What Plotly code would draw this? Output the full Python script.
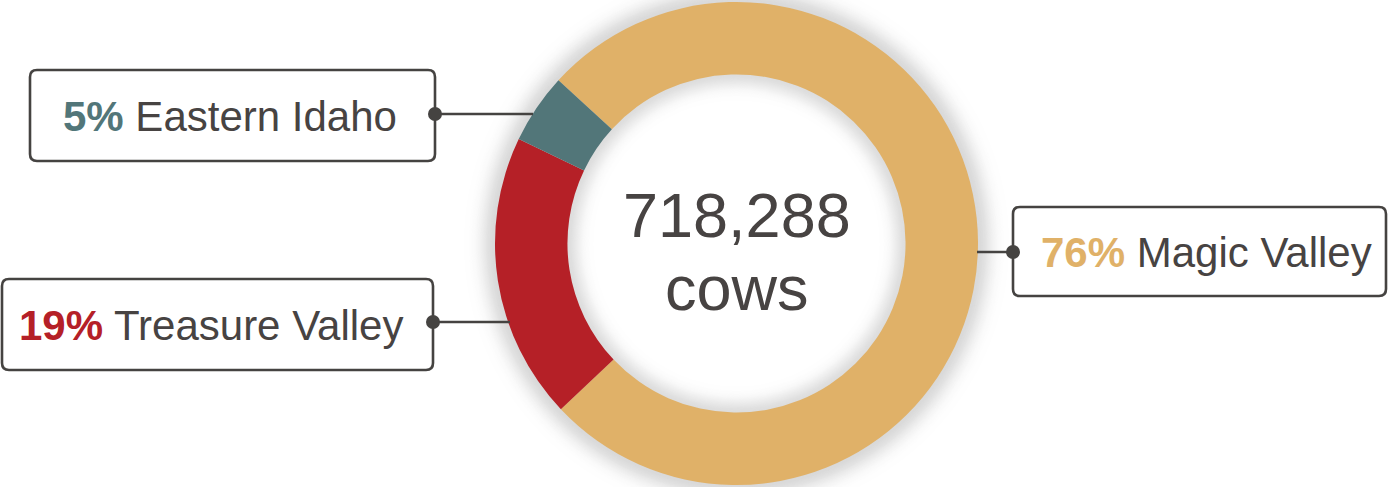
import math
import plotly.graph_objects as go

# ---- data ----
regions = ["Magic Valley", "Treasure Valley", "Eastern Idaho"]
cows = [547000, 137600, 33688]
pct_labels = ["76%", "19%", "5%"]
colors = ["#E0B168", "#B52027", "#527679"]
total_label = "718,288"
unit_label = "cows"

# ---- geometry (pixels) ----
W, H = 1388, 487
cx, cy = 736.5, 243.5
r_out = 241.5
hole = 0.70
r_in = r_out * hole
TXT = "#474342"
EDGE = "#454341"
FONT = "Liberation Sans, Arial, sans-serif"

fig = go.Figure()
fig.add_trace(go.Pie(
    labels=regions, values=cows,
    marker=dict(colors=colors, line=dict(width=0)),
    hole=hole, sort=False, direction="clockwise", rotation=-47.5,
    textinfo="none", hoverinfo="skip", showlegend=False,
    domain=dict(x=[(cx - r_out) / W, (cx + r_out) / W],
                y=[(H - cy - r_out) / H, (H - cy + r_out) / H]),
))

shapes = []


def gray(d, maxd=38, sigma=15.0):
    v = int(round(255 - maxd * math.exp(-(d / sigma) ** 2)))
    return f"rgb({v},{v},{v})"


# outer soft shadow
for d in range(36, -1, -1):
    r = r_out + d
    shapes.append(dict(type="circle", xref="x", yref="y", layer="below",
                       x0=cx - r, x1=cx + r, y0=cy - r, y1=cy + r,
                       fillcolor=gray(d), line=dict(width=0)))
# inner soft shadow inside hole
for d in range(0, 35):
    r = r_in + 1 - d
    shapes.append(dict(type="circle", xref="x", yref="y", layer="below",
                       x0=cx - r, x1=cx + r, y0=cy - r, y1=cy + r,
                       fillcolor=gray(d, maxd=34, sigma=13.0), line=dict(width=0)))


def rrect(x0, y0, x1, y1, r):
    return (f"M{x0 + r},{y0} L{x1 - r},{y0} Q{x1},{y0} {x1},{y0 + r} "
            f"L{x1},{y1 - r} Q{x1},{y1} {x1 - r},{y1} L{x0 + r},{y1} "
            f"Q{x0},{y1} {x0},{y1 - r} L{x0},{y0 + r} Q{x0},{y0} {x0 + r},{y0} Z")


# label boxes: (box x0, y0, x1, y1, dot x, dot y, line end x, text x)
boxes = {
    "Eastern Idaho": (30, 70, 435, 161, 435, 114, 533, 61),
    "Treasure Valley": (2, 279, 433, 370, 433, 322, 510, 17),
    "Magic Valley": (1013, 207, 1386, 296, 1013, 252, 977, 1039),
}

annotations = []
for name, pct, col in zip(regions, pct_labels, colors):
    x0, y0, x1, y1, dx, dy, lx, tx = boxes[name]
    shapes.append(dict(type="line", xref="x", yref="y", x0=dx, x1=lx, y0=dy, y1=dy,
                       line=dict(color=EDGE, width=2.5)))
    shapes.append(dict(type="path", xref="x", yref="y", path=rrect(x0, y0, x1, y1, 7),
                       fillcolor="white", line=dict(color=EDGE, width=2.6)))
    shapes.append(dict(type="circle", xref="x", yref="y", x0=dx - 7, x1=dx + 7,
                       y0=dy - 7, y1=dy + 7, fillcolor=EDGE, line=dict(width=0)))
    annotations.append(dict(
        xref="x", yref="y", x=tx, y=(y0 + y1) / 2 + 1, xanchor="left", yanchor="middle",
        text=f"<b><span style='color:{col}'>{pct}</span></b> {name}",
        showarrow=False, font=dict(family=FONT, size=42, color=TXT)))

annotations.append(dict(xref="x", yref="y", x=cx, y=215, xanchor="center", yanchor="middle",
                        text=total_label, showarrow=False,
                        font=dict(family=FONT, size=63, color=TXT)))
annotations.append(dict(xref="x", yref="y", x=cx, y=288, xanchor="center", yanchor="middle",
                        text=unit_label, showarrow=False,
                        font=dict(family=FONT, size=63, color=TXT)))

fig.update_layout(
    width=W, height=H, margin=dict(l=0, r=0, t=0, b=0),
    paper_bgcolor="white", plot_bgcolor="white",
    xaxis=dict(range=[0, W], visible=False, fixedrange=True),
    yaxis=dict(range=[H, 0], visible=False, fixedrange=True),
    shapes=shapes, annotations=annotations, showlegend=False,
)

fig.write_html("out.html", config={"displayModeBar": False},
               post_script="document.body.style.margin='0';document.body.style.overflow='hidden';")
